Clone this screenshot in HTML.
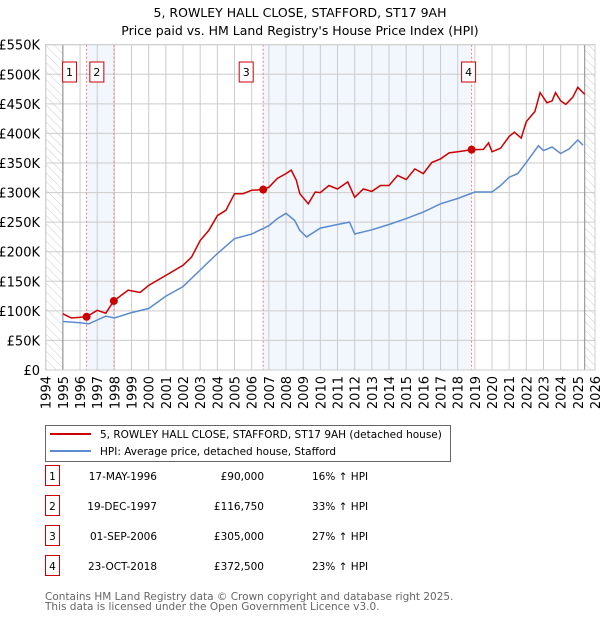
<!DOCTYPE html>
<html><head><meta charset="utf-8"><style>
body{margin:0;background:#fff;font-family:"DejaVu Sans","Liberation Sans",sans-serif;}
#wrap{position:relative;width:600px;height:620px;overflow:hidden}
svg text{font-family:"DejaVu Sans","Liberation Sans",sans-serif}
</style></head><body><div id="wrap">
<svg id="c" width="600" height="620"></svg>
</div>
<script>
const hpiYears=[1995,1996,1996.5,1997,1997.5,1998,1999,2000,2001,2002,2003,2004,2005,2006,2007,2007.5,2008,2008.5,2008.8,2009.2,2010,2011,2011.7,2012,2013,2014,2015,2016,2017,2018,2019,2020,2020.5,2021,2021.5,2022,2022.7,2023,2023.5,2024,2024.5,2025,2025.3];
const hpiValues=[82,80,78,84.5,91,88,97,104,125,141,169,197,222,230,244,256,265,253,236,225,240,246,250,230,237,246,256,267,281,290,301,301,312,326,332,351,379,371,377,366,374,389,380];
const redYears=[1995,1995.5,1996.38,1997,1997.5,1997.97,1998.8,1999.5,2000,2001,2002,2002.5,2003,2003.5,2004,2004.5,2005,2005.5,2006,2006.67,2007,2007.5,2008,2008.3,2008.6,2008.8,2009.3,2009.7,2010,2010.5,2011,2011.6,2012,2012.5,2013,2013.5,2014,2014.5,2015,2015.5,2016,2016.5,2017,2017.5,2018,2018.81,2019.5,2019.8,2020,2020.5,2021,2021.3,2021.7,2022,2022.5,2022.8,2023.2,2023.5,2023.7,2024,2024.3,2024.7,2025,2025.4];
const redValues=[95,88,90,101,96,116.75,135,131,143,160,177,191,219,236,261,270,298,298,304,305,309,324,332,338,321,298,281,301,300,312,306,318,292,306,302,312,312,329,322,340,332,351,357,367,369,372.5,373,384,369,375,395,402,392,420,437,469,452,455,469,455,449,461,478,466];
const saleLabels=["1","2","3","4"];
const saleYears=[1996.38,1997.97,2006.67,2018.81];
const saleValues=[90,116.75,305,372.5];
const yTicks=[0,50,100,150,200,250,300,350,400,450,500,550];
const yTickLabels=["£0","£50K","£100K","£150K","£200K","£250K","£300K","£350K","£400K","£450K","£500K","£550K"];
const xTicks=[1994,1995,1996,1997,1998,1999,2000,2001,2002,2003,2004,2005,2006,2007,2008,2009,2010,2011,2012,2013,2014,2015,2016,2017,2018,2019,2020,2021,2022,2023,2024,2025,2026];

const L=45.7,R=595,T=44.7,B=370;
const X=y=>L+(y-1994)*(R-L)/32;
const Y=v=>B-v*(B-T)/550;
const NS="http://www.w3.org/2000/svg";
const svg=document.getElementById('c');
function mk(tag,attrs,parent){const e=document.createElementNS(NS,tag);for(const k in attrs)e.setAttribute(k,attrs[k]);(parent||svg).appendChild(e);return e;}

const defs=mk('defs',{});
const pat=mk('pattern',{id:'hatch',width:6,height:6,patternUnits:'userSpaceOnUse',patternTransform:'rotate(-45)'},defs);
mk('line',{x1:0,y1:0,x2:0,y2:6,stroke:'#ccc','stroke-width':1},pat);

let e;
e=mk('text',{x:300,y:17,'text-anchor':'middle','font-size':12.5,fill:'#000'});e.textContent="5, ROWLEY HALL CLOSE, STAFFORD, ST17 9AH";

e=mk('text',{x:300,y:35,'text-anchor':'middle','font-size':12.5,fill:'#000'});e.textContent="Price paid vs. HM Land Registry's House Price Index (HPI)";


for(const [a,b] of [[0,1],[2,3]]){
  e=mk('rect',{x:X(saleYears[a]),y:T,width:X(saleYears[b])-X(saleYears[a]),height:B-T,fill:'#f2f6fd'});
  
}
e=mk('rect',{x:L,y:T,width:X(1995)-L,height:B-T,fill:'url(#hatch)'});

e=mk('rect',{x:X(2025.4),y:T,width:R-X(2025.4),height:B-T,fill:'url(#hatch)'});


for(const t of yTicks){
  e=mk('line',{x1:L,x2:R,y1:Y(t),y2:Y(t),stroke:'#ccc','stroke-width':1});
  
}
for(let i=0;i<yTicks.length;i++){
  e=mk('text',{x:40,y:Y(yTicks[i])+5,'text-anchor':'end','font-size':13,fill:'#000'});e.textContent=yTickLabels[i];
  
}
for(const t of xTicks){
  e=mk('line',{x1:X(t),x2:X(t),y1:T,y2:B,stroke:'#ccc','stroke-width':1});
  
  e=mk('text',{x:0,y:0,'text-anchor':'end','font-size':13,fill:'#000',transform:`translate(${X(t)+5},${B+6}) rotate(-90)`});e.textContent=t;
  
}
e=mk('line',{x1:X(1995),x2:X(1995),y1:T,y2:B,stroke:'#888','stroke-width':1});

e=mk('line',{x1:X(2025.4),x2:X(2025.4),y1:T,y2:B,stroke:'#888','stroke-width':1});


for(let i=0;i<saleYears.length;i++){
  e=mk('line',{x1:X(saleYears[i]),x2:X(saleYears[i]),y1:T,y2:B,stroke:'#f08080','stroke-width':1,'stroke-dasharray':'2,2'});
  
}

function pts(xs,ys){return xs.map((x,i)=>X(x).toFixed(1)+','+Y(ys[i]).toFixed(1)).join(' ');}
e=mk('polyline',{points:pts(hpiYears,hpiValues),fill:'none',stroke:'#5b8bd0','stroke-width':1.5});

e=mk('polyline',{points:pts(redYears,redValues),fill:'none',stroke:'#cc0000','stroke-width':1.5});


for(let i=0;i<saleYears.length;i++){
  e=mk('circle',{cx:X(saleYears[i]),cy:Y(saleValues[i]),r:4,fill:'#cc0000'});
  
  const bx=X(saleYears[i])-(i==3?3:17);
  e=mk('rect',{x:bx-7,y:62,width:14,height:20,fill:'#fff',stroke:'#cc0000','stroke-width':1});
  
  e=mk('text',{x:bx,y:76,'text-anchor':'middle','font-size':11,fill:'#000'});e.textContent=saleLabels[i];
  
}
e=mk('rect',{x:L,y:T,width:R-L,height:B-T,fill:'none',stroke:'#ccc','stroke-width':1});


e=mk('rect',{x:45.5,y:425.5,width:405,height:36,fill:'#fff',stroke:'#666','stroke-width':1});

e=mk('line',{x1:50,x2:91,y1:434,y2:434,stroke:'#cc0000','stroke-width':2});

e=mk('text',{x:100,y:438,'font-size':10.5,fill:'#000'});e.textContent="5, ROWLEY HALL CLOSE, STAFFORD, ST17 9AH (detached house)";

e=mk('line',{x1:50,x2:91,y1:451,y2:451,stroke:'#5b8bd0','stroke-width':2});

e=mk('text',{x:100,y:455,'font-size':10.5,fill:'#000'});e.textContent="HPI: Average price, detached house, Stafford";


const dates=["17-MAY-1996","19-DEC-1997","01-SEP-2006","23-OCT-2018"];
const prices=["£90,000","£116,750","£305,000","£372,500"];
const deltas=["16% ↑ HPI","33% ↑ HPI","27% ↑ HPI","23% ↑ HPI"];
for(let i=0;i<4;i++){
  const cy=483+i*30;
  e=mk('rect',{x:45.5,y:cy-17.5,width:14,height:20,fill:'#fff',stroke:'#cc0000','stroke-width':1});
  
  e=mk('text',{x:52.5,y:cy-3,'text-anchor':'middle','font-size':10.5});e.textContent=saleLabels[i];
  
  e=mk('text',{x:157,y:cy-3,'text-anchor':'end','font-size':10.5});e.textContent=dates[i];
  
  e=mk('text',{x:264,y:cy-3,'text-anchor':'end','font-size':10.5});e.textContent=prices[i];
  
  e=mk('text',{x:312,y:cy-3,'font-size':10.5});e.textContent=deltas[i];
  
}
e=mk('text',{x:45,y:600,'font-size':10.5,fill:'#666'});e.textContent="Contains HM Land Registry data © Crown copyright and database right 2025.";

e=mk('text',{x:45,y:610,'font-size':10.5,fill:'#666'});e.textContent="This data is licensed under the Open Government Licence v3.0.";

</script></body></html>
